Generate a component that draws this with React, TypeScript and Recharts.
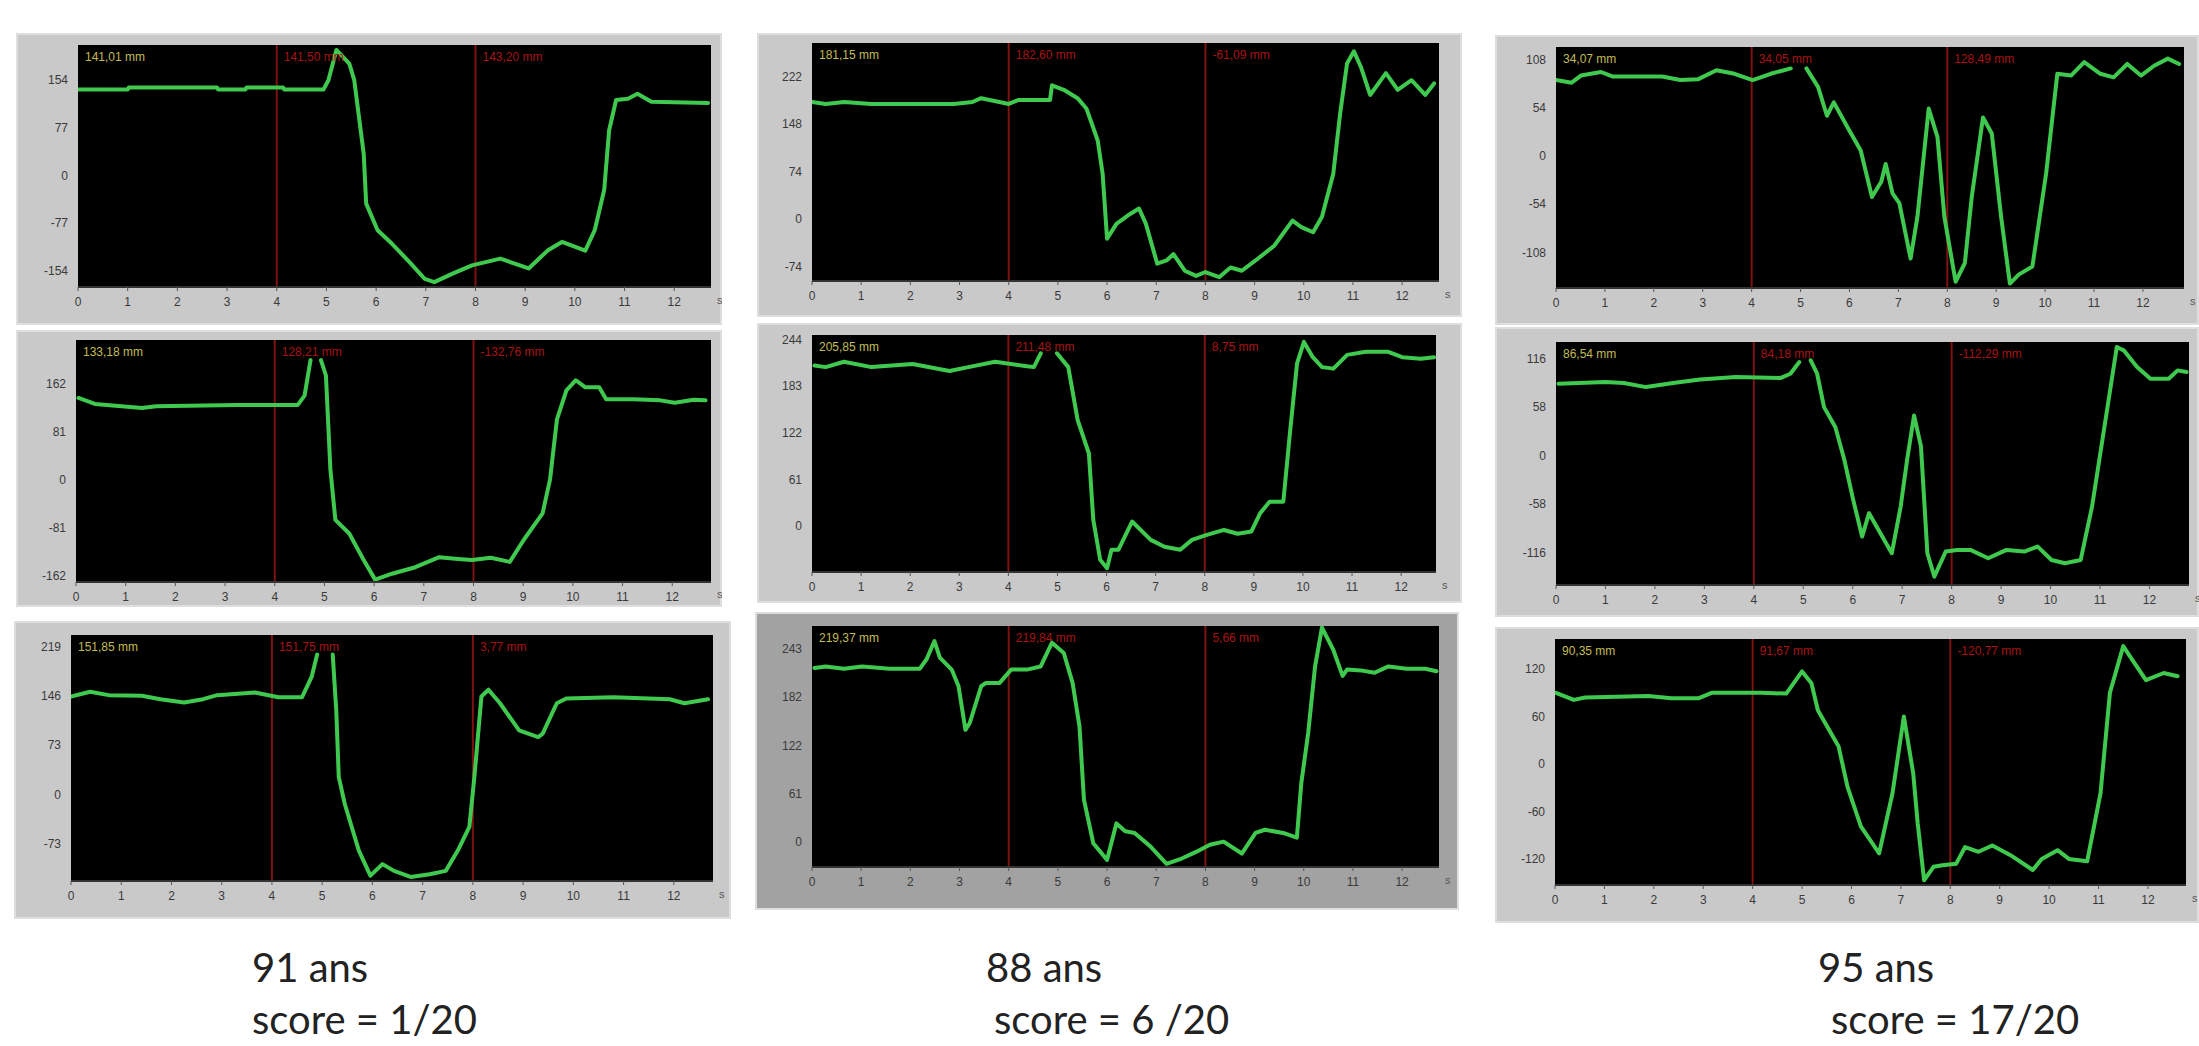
import React from 'react';
import { LineChart, Line, XAxis, YAxis, CartesianGrid, ReferenceLine } from 'recharts';

// ---------- data (time in s, position in mm) ----------
const xTicks = [0, 1, 2, 3, 4, 5, 6, 7, 8, 9, 10, 11, 12];
const cursors = [4, 8];

const p1T = [0, 1.0, 1.02, 2.8, 2.82, 3.37, 3.39, 4.13, 4.15, 4.94, 5.04, 5.2, 5.46, 5.56, 5.75, 5.8, 6.03, 6.32, 6.7, 6.98, 7.17, 7.55, 7.93, 8.5, 9.07, 9.45, 9.74, 10.21, 10.4, 10.59, 10.69, 10.83, 11.07, 11.26, 11.54, 12.68];
const p1V = [139, 139, 142, 142, 139, 139, 142, 142, 139, 139, 154, 203, 181, 154, 35, -46, -89, -111, -143, -168, -173, -159, -146, -135, -151, -122, -108, -122, -89, -24, 73, 122, 124, 132, 119, 117];
const p1Ticks = [-154, -77, 0, 77, 154];
const p1Labels = ['141,01 mm', '141,50 mm', '143,20 mm'];

const p2T = [0, 0.28, 0.65, 1.21, 2.88, 3.26, 3.44, 3.81, 4.0, 4.19, 4.84, 4.88, 5.12, 5.4, 5.58, 5.81, 5.91, 6.0, 6.19, 6.42, 6.65, 6.79, 7.02, 7.21, 7.35, 7.58, 7.81, 8.0, 8.28, 8.51, 8.74, 9.02, 9.4, 9.77, 9.95, 10.19, 10.37, 10.6, 10.74, 10.88, 11.02, 11.16, 11.35, 11.67, 11.91, 12.19, 12.47, 12.65];
const p2V = [182, 179, 182, 179, 179, 182, 188, 182, 179, 185, 185, 208, 201, 188, 172, 122, 70, -31, -8, 5, 16, -8, -70, -65, -55, -81, -89, -83, -91, -76, -81, -65, -42, -3, -13, -21, 3, 70, 164, 242, 261, 237, 193, 227, 201, 216, 193, 211];
const p2Ticks = [-74, 0, 74, 148, 222];
const p2Labels = ['181,15 mm', '182,60 mm', '-61,09 mm'];

const p3T = [0, 0.32, 0.51, 0.92, 1.15, 2.17, 2.54, 2.91, 3.28, 3.65, 4.02, 4.39, 4.8, 4.95, 5.12, 5.36, 5.54, 5.68, 5.96, 6.23, 6.46, 6.65, 6.74, 6.88, 7.02, 7.25, 7.39, 7.62, 7.8, 7.94, 8.17, 8.36, 8.5, 8.73, 8.91, 9.1, 9.28, 9.46, 9.74, 10.02, 10.25, 10.53, 10.8, 11.13, 11.4, 11.68, 11.96, 12.23, 12.51, 12.74];
const p3V = [85, 82, 90, 94, 89, 89, 85, 86, 96, 92, 85, 92, 98, null, 98, 77, 45, 60, 32, 6, -46, -29, -9, -42, -53, -115, -68, 53, 21, -68, -141, -120, -46, 43, 25, -68, -143, -133, -124, -20, 92, 90, 105, 92, 88, 103, 90, 101, 109, 103];
const p3Ticks = [-108, -54, 0, 54, 108];
const p3Labels = ['34,07 mm', '34,05 mm', '128,49 mm'];

const p4T = [0.05, 0.38, 1.33, 1.61, 3.23, 4.46, 4.6, 4.72, 4.82, 4.93, 5.03, 5.12, 5.22, 5.5, 5.79, 6.02, 6.36, 6.83, 7.31, 7.69, 7.97, 8.35, 8.73, 9.01, 9.39, 9.54, 9.68, 9.87, 10.06, 10.25, 10.53, 10.67, 11.2, 11.76, 12.05, 12.43, 12.67];
const p4V = [138, 128, 121, 124, 126, 126, 142, 202, null, 202, 176, 17, -68, -91, -136, -169, -159, -148, -131, -134, -136, -132, -139, -102, -57, 0, 102, 151, 168, 156, 156, 136, 136, 134, 130, 135, 134];
const p4Ticks = [-162, -81, 0, 81, 162];
const p4Labels = ['133,18 mm', '128,21 mm', '-132,76 mm'];

const p5T = [0.05, 0.28, 0.65, 1.21, 2.05, 2.8, 3.26, 3.73, 4.38, 4.52, 4.66, 4.82, 4.99, 5.22, 5.41, 5.64, 5.73, 5.87, 6.01, 6.1, 6.24, 6.52, 6.9, 7.18, 7.5, 7.74, 8.01, 8.39, 8.67, 8.95, 9.13, 9.32, 9.6, 9.74, 9.88, 10.02, 10.2, 10.39, 10.62, 10.9, 11.28, 11.74, 12.02, 12.4, 12.67];
const p5V = [210, 208, 215, 208, 212, 203, 209, 215, 209, 208, 226, null, 226, 208, 139, 95, 8, -44, -55, -31, -31, 6, -18, -27, -31, -18, -12, -5, -10, -7, 17, 32, 32, 125, 213, 241, 221, 208, 206, 224, 228, 228, 221, 219, 221];
const p5Ticks = [0, 61, 122, 183, 244];
const p5Labels = ['205,85 mm', '211,48 mm', '8,75 mm'];

const p6T = [0.05, 1.0, 1.37, 1.82, 2.37, 2.91, 3.64, 4.55, 4.74, 4.92, 5.02, 5.15, 5.28, 5.42, 5.65, 5.83, 6.01, 6.19, 6.33, 6.56, 6.79, 6.97, 7.1, 7.24, 7.38, 7.51, 7.65, 7.88, 8.11, 8.38, 8.74, 9.11, 9.47, 9.74, 10.02, 10.29, 10.61, 10.84, 11.11, 11.34, 11.48, 11.75, 12.02, 12.39, 12.57, 12.75];
const p6V = [86, 88, 87, 82, 87, 91, 94, 93, 98, 112, null, 114, 98, 58, 34, -5, -53, -97, -69, -93, -117, -61, -5, 48, 11, -117, -145, -115, -113, -113, -123, -113, -115, -109, -125, -129, -125, -61, 42, 130, 126, 106, 92, 92, 102, 100];
const p6Ticks = [-116, -58, 0, 58, 116];
const p6Labels = ['86,54 mm', '84,18 mm', '-112,29 mm'];

const p7T = [0, 0.38, 0.75, 1.41, 1.78, 2.25, 2.63, 2.91, 3.66, 4.13, 4.6, 4.79, 4.9, 5.05, 5.21, 5.28, 5.31, 5.33, 5.45, 5.73, 5.96, 6.2, 6.43, 6.76, 7.14, 7.46, 7.7, 7.93, 8.03, 8.17, 8.31, 8.54, 8.92, 9.3, 9.39, 9.67, 9.86, 10.8, 11.92, 12.21, 12.68];
const p7V = [145, 152, 147, 146, 141, 136, 141, 147, 151, 144, 144, 174, 207, null, 207, 125, 66, 26, -14, -83, -120, -103, -113, -122, -118, -113, -83, -48, 26, 145, 155, 135, 95, 85, 90, 135, 142, 144, 141, 135, 141];
const p7Ticks = [-73, 0, 73, 146, 219];
const p7Labels = ['151,85 mm', '151,75 mm', '3,77 mm'];

const p8T = [0.05, 0.28, 0.65, 1.02, 1.58, 2.19, 2.33, 2.49, 2.6, 2.84, 2.98, 3.12, 3.21, 3.44, 3.53, 3.81, 4.05, 4.37, 4.65, 4.88, 5.12, 5.3, 5.44, 5.53, 5.72, 6.0, 6.19, 6.37, 6.56, 6.88, 7.21, 7.53, 7.81, 8.09, 8.37, 8.74, 9.02, 9.21, 9.58, 9.86, 9.95, 10.09, 10.23, 10.37, 10.6, 10.79, 10.88, 11.16, 11.44, 11.72, 12.09, 12.47, 12.7];
const p8V = [219, 221, 218, 221, 218, 218, 230, 253, 232, 217, 196, 141, 150, 196, 200, 200, 217, 217, 221, 251, 238, 200, 145, 53, -2, -23, 23, 13, 11, -6, -28, -21, -13, -4, 0, -15, 11, 15, 11, 5, 74, 137, 221, 270, 242, 209, 217, 216, 213, 221, 218, 218, 215];
const p8Ticks = [0, 60.75, 121.5, 182.25, 243];
const p8Labels = ['219,37 mm', '219,84 mm', '5,66 mm'];

const p9T = [0.02, 0.38, 0.61, 1.89, 2.35, 2.9, 3.17, 4.18, 4.68, 5.0, 5.19, 5.32, 5.74, 5.92, 6.19, 6.56, 6.83, 7.06, 7.25, 7.34, 7.47, 7.66, 7.84, 8.12, 8.3, 8.57, 8.85, 9.21, 9.67, 9.85, 10.17, 10.4, 10.77, 11.04, 11.23, 11.5, 11.68, 11.96, 12.32, 12.6];
const p9V = [90, 81, 84, 86, 83, 83, 90, 90, 89, 117, 102, 68, 22, -29, -79, -113, -37, 60, -12, -75, -147, -130, -128, -126, -105, -111, -103, -115, -134, -120, -109, -120, -123, -37, 90, 149, 132, 106, 115, 111];
const p9Ticks = [-120, -60, 0, 60, 120];
const p9Labels = ['90,35 mm', '91,67 mm', '-120,77 mm'];

const captions = [
  { age: '91 ans', score: 'score = 1/20' },
  { age: '88 ans', score: 'score = 6 /20' },
  { age: '95 ans', score: 'score = 17/20' },
];

// ---------- layout (page pixels) ----------
type Spec = {
  box: number[]; plot: number[]; xMax: number; yDom: number[];
  t: number[]; v: (number | null)[]; ticks: number[]; labels: string[]; bg: string;
};

const specs: Spec[] = [
  { box: [16, 33, 722, 325], plot: [78, 45, 711, 287], xMax: 12.74, yDom: [-181, 211], t: p1T, v: p1V, ticks: p1Ticks, labels: p1Labels, bg: '#c9c9c9' },
  { box: [757, 33, 1462, 317], plot: [812, 43, 1439, 281], xMax: 12.75, yDom: [-97, 274], t: p2T, v: p2V, ticks: p2Ticks, labels: p2Labels, bg: '#c9c9c9' },
  { box: [1495, 35, 2199, 325], plot: [1556, 47, 2184, 288], xMax: 12.84, yDom: [-148, 122], t: p3T, v: p3V, ticks: p3Ticks, labels: p3Labels, bg: '#c9c9c9' },
  { box: [16, 330, 722, 607], plot: [76, 340, 711, 582], xMax: 12.78, yDom: [-173, 236], t: p4T, v: p4V, ticks: p4Ticks, labels: p4Labels, bg: '#c9c9c9' },
  { box: [757, 323, 1462, 603], plot: [812, 335, 1436, 572], xMax: 12.71, yDom: [-60, 250], t: p5T, v: p5V, ticks: p5Ticks, labels: p5Labels, bg: '#c9c9c9' },
  { box: [1495, 327, 2199, 617], plot: [1556, 342, 2189, 585], xMax: 12.8, yDom: [-155, 136], t: p6T, v: p6V, ticks: p6Ticks, labels: p6Labels, bg: '#c9c9c9' },
  { box: [14, 621, 731, 919], plot: [71, 635, 713, 881], xMax: 12.78, yDom: [-128, 236], t: p7T, v: p7V, ticks: p7Ticks, labels: p7Labels, bg: '#c9c9c9' },
  { box: [755, 612, 1459, 910], plot: [812, 626, 1439, 867], xMax: 12.75, yDom: [-32, 272], t: p8T, v: p8V, ticks: p8Ticks, labels: p8Labels, bg: '#a2a2a2' },
  { box: [1495, 627, 2199, 923], plot: [1555, 639, 2186, 885], xMax: 12.77, yDom: [-153, 158], t: p9T, v: p9V, ticks: p9Ticks, labels: p9Labels, bg: '#c9c9c9' },
];

const TICK_FONT = "'Liberation Sans Narrow','Liberation Sans',Arial,sans-serif";
const GREEN = '#3fc94f';
const RED = '#7e1212';

function Panel({ s }: { s: Spec }) {
  const W = s.box[2] - s.box[0];
  const H = s.box[3] - s.box[1];
  const YW = 44;
  const below = s.box[3] - s.plot[3];
  const XH = Math.min(26, below);
  const margin = {
    top: s.plot[1] - s.box[1],
    left: s.plot[0] - s.box[0] - YW,
    right: s.box[2] - s.plot[2],
    bottom: below - XH,
  };
  const data = s.t.map((t, i) => ({ t, v: s.v[i] }));
  const tickStyle = { fontSize: 12, fill: '#3a3a3a', fontFamily: TICK_FONT };
  return (
    <div style={{ position: 'absolute', left: s.box[0], top: s.box[1], width: W, height: H, background: s.bg, boxShadow: 'inset 0 0 0 2px #dedede' }}>
      <LineChart width={W} height={H} data={data} margin={margin} style={{ overflow: 'visible' }}>
        <CartesianGrid fill="#000" fillOpacity={1} horizontal={false} vertical={false} stroke="none" />
        <XAxis
          dataKey="t"
          type="number"
          domain={[0, s.xMax]}
          ticks={xTicks}
          allowDataOverflow
          height={XH}
          tick={tickStyle}
          tickSize={4}
          tickMargin={6}
          stroke="#555"
          axisLine={{ stroke: '#333', strokeWidth: 2 }}
          tickLine={{ stroke: '#555' }}
          label={{ value: 's', position: 'right', offset: 6, fontSize: 11, fill: '#555', fontFamily: TICK_FONT }}
        />
        <YAxis
          type="number"
          domain={s.yDom}
          ticks={s.ticks}
          allowDataOverflow
          width={YW}
          tick={tickStyle}
          tickFormatter={(v: number) => String(Math.round(v))}
          axisLine={false}
          tickLine={false}
          tickMargin={4}
        />
        <ReferenceLine
          x={0}
          stroke="none"
          label={{ value: s.labels[0], position: 'insideTopLeft', offset: 7, fill: '#c2bc55', fontSize: 12, fontFamily: TICK_FONT }}
        />
        {cursors.map((c, i) => (
          <ReferenceLine
            key={c}
            x={c}
            stroke={RED}
            strokeWidth={2}
            label={{ value: s.labels[i + 1], position: 'insideTopLeft', offset: 7, fill: '#a81414', fontSize: 12, fontFamily: TICK_FONT }}
          />
        ))}
        <Line
          type="linear"
          dataKey="v"
          stroke={GREEN}
          strokeWidth={4}
          dot={false}
          isAnimationActive={false}
          connectNulls={false}
          strokeLinejoin="round"
          strokeLinecap="round"
        />
      </LineChart>
    </div>
  );
}

const capX = [[252, 252], [986, 994], [1818, 1831]];

export default function App() {
  return (
    <div style={{ position: 'absolute', left: 0, top: 0, width: 2199, height: 1046, background: '#fff', overflow: 'hidden' }}>
      {specs.map((s, i) => (
        <Panel key={i} s={s} />
      ))}
      <svg width={2199} height={1046} style={{ position: 'absolute', left: 0, top: 0, pointerEvents: 'none' }}>
        {captions.map((c, i) => (
          <g key={i} fontFamily="Lato, 'Open Sans', sans-serif" fontSize={40} fill="#222">
            <text x={capX[i][0]} y={982}>{c.age}</text>
            <text x={capX[i][1]} y={1034}>{c.score}</text>
          </g>
        ))}
      </svg>
    </div>
  );
}
